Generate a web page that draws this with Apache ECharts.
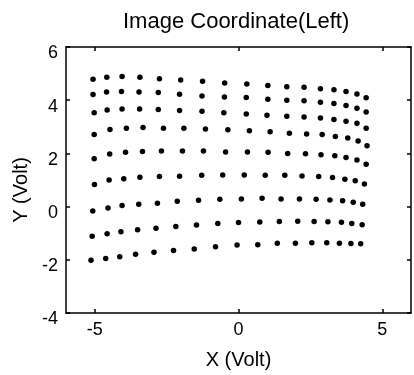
<!DOCTYPE html>
<html>
<head>
<meta charset="utf-8">
<script src="https://cdn.jsdelivr.net/npm/echarts@6/dist/echarts.min.js"></script>
<style>html,body{margin:0;padding:0;background:#fff}#c{width:414px;height:375px}</style>
</head>
<body>
<div id="c"></div>
<script>
// Grid of calibration points: one X and one Y array per row (top row first)
const rowX1 = [-5.06,-4.58,-4.05,-3.43,-2.75,-2.01,-1.25,-0.48,0.29,1.02,1.68,2.28,2.85,3.32,3.74,4.12,4.44];
const rowY1 = [4.79,4.86,4.89,4.86,4.81,4.76,4.71,4.65,4.61,4.55,4.51,4.49,4.43,4.39,4.33,4.23,4.09];
const rowX2 = [-5.06,-4.59,-4.07,-3.46,-2.79,-2.05,-1.27,-0.49,0.27,1.02,1.68,2.28,2.85,3.32,3.74,4.12,4.44];
const rowY2 = [4.21,4.31,4.33,4.31,4.29,4.22,4.16,4.12,4.10,4.04,4.00,3.98,3.92,3.88,3.80,3.70,3.56];
const rowX3 = [-5.02,-4.57,-4.05,-3.44,-2.79,-2.05,-1.27,-0.51,0.27,0.99,1.68,2.28,2.85,3.32,3.74,4.12,4.44];
const rowY3 = [3.53,3.63,3.67,3.67,3.65,3.61,3.58,3.53,3.48,3.43,3.40,3.37,3.33,3.27,3.21,3.13,2.95];
const rowX4 = [-5.02,-4.47,-3.90,-3.32,-2.61,-1.90,-1.15,-0.37,0.38,1.10,1.77,2.37,2.91,3.37,3.80,4.16,4.47];
const rowY4 = [2.71,2.90,2.95,2.97,2.95,2.95,2.92,2.89,2.85,2.81,2.76,2.73,2.71,2.64,2.58,2.47,2.29];
const rowX5 = [-5.02,-4.48,-3.93,-3.34,-2.68,-1.95,-1.22,-0.45,0.31,1.03,1.71,2.33,2.87,3.35,3.74,4.12,4.44];
const rowY5 = [1.80,1.98,2.04,2.07,2.09,2.09,2.09,2.05,2.05,2.04,2.00,1.99,1.95,1.91,1.85,1.75,1.59];
const rowX6 = [-5.01,-4.50,-3.99,-3.43,-2.75,-2.05,-1.28,-0.55,0.20,0.93,1.61,2.21,2.79,3.27,3.70,4.06,4.38];
const rowY6 = [0.83,1.00,1.05,1.10,1.13,1.14,1.18,1.19,1.19,1.18,1.18,1.15,1.13,1.09,1.03,0.97,0.85];
const rowX7 = [-5.07,-4.54,-4.05,-3.47,-2.82,-2.13,-1.39,-0.65,0.10,0.82,1.48,2.12,2.70,3.18,3.62,3.99,4.32];
const rowY7 = [-0.17,-0.05,0.04,0.09,0.13,0.20,0.24,0.28,0.29,0.31,0.29,0.29,0.28,0.25,0.22,0.16,0.09];
const rowX8 = [-5.09,-4.57,-4.09,-3.51,-2.87,-2.18,-1.46,-0.72,0.00,0.74,1.42,2.06,2.63,3.11,3.58,3.94,4.30];
const rowY8 = [-1.11,-1.02,-0.95,-0.87,-0.81,-0.75,-0.69,-0.64,-0.60,-0.58,-0.56,-0.55,-0.56,-0.57,-0.59,-0.64,-0.68];
const rowX9 = [-5.13,-4.62,-4.13,-3.58,-2.94,-2.26,-1.54,-0.80,-0.05,0.67,1.35,1.98,2.55,3.07,3.51,3.91,4.25];
const rowY9 = [-2.02,-1.95,-1.89,-1.79,-1.72,-1.65,-1.59,-1.51,-1.44,-1.43,-1.38,-1.38,-1.36,-1.36,-1.38,-1.39,-1.40];

const xTicks = [-5, 0, 5];
const yTicks = [-4, -2, 0, 2, 4, 6];

const rowsX = [rowX1,rowX2,rowX3,rowX4,rowX5,rowX6,rowX7,rowX8,rowX9];
const rowsY = [rowY1,rowY2,rowY3,rowY4,rowY5,rowY6,rowY7,rowY8,rowY9];
const points = [];
rowsX.forEach((xs, r) => xs.forEach((x, i) => points.push([x, rowsY[r][i]])));

const FONT = 'Liberation Sans, Arial, Helvetica, sans-serif';
const lineStyle = { color: '#000', width: 1.5 };

const chart = echarts.init(document.getElementById('c'), null, { renderer: 'canvas' });
chart.setOption({
  backgroundColor: '#fff',
  animation: false,
  title: {
    text: 'Image Coordinate(Left)',
    left: 118, top: 6,
    textStyle: { fontFamily: FONT, fontSize: 22, fontWeight: 'normal', color: '#000' }
  },
  grid: { left: 66, right: 3, top: 47, bottom: 56 },
  xAxis: [{
    type: 'value', min: -6, max: 6,
    name: 'X (Volt)', nameLocation: 'middle', nameGap: 37,
    nameTextStyle: { fontFamily: FONT, fontSize: 20, color: '#000' },
    axisLine: { show: true, onZero: false, lineStyle },
    axisTick: { show: true, inside: true, length: 4, customValues: xTicks, lineStyle },
    axisLabel: { customValues: xTicks, margin: 8, fontFamily: FONT, fontSize: 18, color: '#000' },
    splitLine: { show: false }
  }, {
    type: 'value', min: -6, max: 6, position: 'top',
    axisLine: { show: true, onZero: false, lineStyle },
    axisTick: { show: true, inside: true, length: 4, customValues: xTicks, lineStyle },
    axisLabel: { show: false },
    splitLine: { show: false }
  }],
  yAxis: [{
    type: 'value', min: -4, max: 6, interval: 2,
    name: 'Y (Volt)', nameLocation: 'middle', nameGap: 30,
    nameTextStyle: { fontFamily: FONT, fontSize: 20, color: '#000', padding: [0, 20, 0, 0] },
    axisLine: { show: true, onZero: false, lineStyle },
    axisTick: { show: true, inside: true, length: 4, lineStyle },
    axisLabel: { margin: 8, fontFamily: FONT, fontSize: 18, color: '#000', verticalAlign: 'top', lineHeight: 13 },
    splitLine: { show: false }
  }, {
    type: 'value', min: -4, max: 6, interval: 2, position: 'right',
    axisLine: { show: true, onZero: false, lineStyle },
    axisTick: { show: true, inside: true, length: 4, lineStyle },
    axisLabel: { show: false },
    splitLine: { show: false }
  }],
  series: [{
    type: 'scatter',
    xAxisIndex: 0, yAxisIndex: 0,
    data: points,
    symbol: 'circle', symbolSize: 5.5,
    itemStyle: { color: '#000', opacity: 1 }
  }]
});
</script>
</body>
</html>
